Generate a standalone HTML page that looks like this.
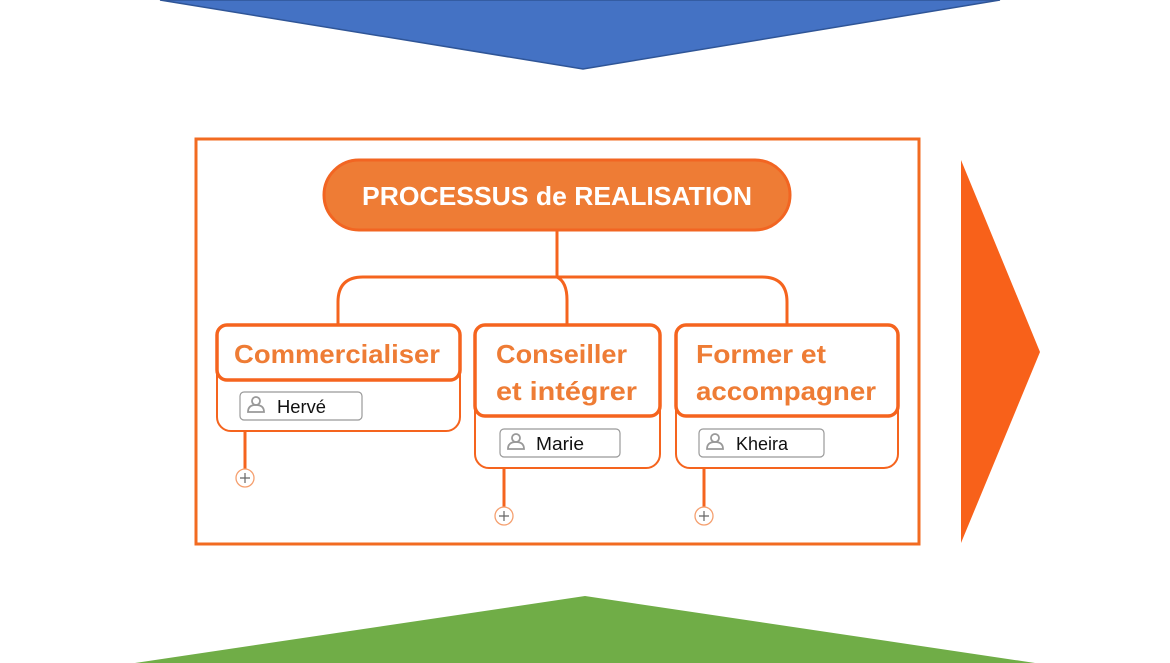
<!DOCTYPE html>
<html><head><meta charset="utf-8"><style>
html,body{margin:0;padding:0;background:#fff;width:1170px;height:663px;overflow:hidden}
text{font-family:"Liberation Sans","DejaVu Sans",sans-serif}
</style></head><body>
<svg width="1170" height="663" viewBox="0 0 1170 663" xmlns="http://www.w3.org/2000/svg">
<polygon points="160,0 1000,0 583,69" fill="#4472C4" stroke="#2F5597" stroke-width="1.5"/>
<polygon points="135,663 585,596 1035,663" fill="#70AD47"/>
<polygon points="961,160 1040,352 961,543" fill="#F8611A"/>
<rect x="196" y="139" width="723" height="405" fill="#fff" stroke="#F26B21" stroke-width="3"/>
<g fill="none" stroke="#F5641E" stroke-width="3">
<line x1="557" y1="230" x2="557" y2="277"/>
<path d="M338,325 V302 Q338,277 363,277 H762 Q787,277 787,302 V325"/>
<path d="M557,277 Q567,282 567,300 V325"/>
<line x1="245" y1="431" x2="245" y2="470"/>
<line x1="504" y1="468" x2="504" y2="508"/>
<line x1="704" y1="468" x2="704" y2="508"/>
</g>
<rect x="324" y="160" width="466" height="70" rx="35" fill="#EE7C35" stroke="#F26522" stroke-width="3"/>
<text x="362" y="205" fill="#fff" font-weight="bold" font-size="26" textLength="390" lengthAdjust="spacingAndGlyphs">PROCESSUS de REALISATION</text>
<g stroke="#F5641E" fill="#fff">
<rect x="217" y="325" width="243" height="106" rx="14" stroke-width="2"/>
<rect x="217" y="325" width="243" height="55" rx="10" stroke-width="3.5"/>
<rect x="475" y="325" width="185" height="143" rx="14" stroke-width="2"/>
<rect x="475" y="325" width="185" height="91" rx="10" stroke-width="3.5"/>
<rect x="676" y="325" width="222" height="143" rx="14" stroke-width="2"/>
<rect x="676" y="325" width="222" height="91" rx="10" stroke-width="3.5"/>
</g>
<g fill="#EE7C35" font-weight="bold" font-size="26" lengthAdjust="spacingAndGlyphs">
<text x="234" y="363" textLength="206" lengthAdjust="spacingAndGlyphs">Commercialiser</text>
<text x="496" y="363" textLength="131" lengthAdjust="spacingAndGlyphs">Conseiller</text>
<text x="496" y="400" textLength="141" lengthAdjust="spacingAndGlyphs">et intégrer</text>
<text x="696" y="363" textLength="130" lengthAdjust="spacingAndGlyphs">Former et</text>
<text x="696" y="400" textLength="180" lengthAdjust="spacingAndGlyphs">accompagner</text>
</g>
<g fill="#fff" stroke="#999" stroke-width="1.2">
<rect x="240" y="392" width="122" height="28" rx="4"/>
<rect x="500" y="429" width="120" height="28" rx="4"/>
<rect x="699" y="429" width="125" height="28" rx="4"/>
</g>
<g fill="none" stroke="#999" stroke-width="1.8">
<circle cx="256" cy="401" r="4"/><path d="M248,412 Q248,405 256,405 Q264,405 264,412 Z"/>
<circle cx="516" cy="438" r="4"/><path d="M508,449 Q508,442 516,442 Q524,442 524,449 Z"/>
<circle cx="715" cy="438" r="4"/><path d="M707,449 Q707,442 715,442 Q723,442 723,449 Z"/>
</g>
<g fill="#111" font-size="18">
<text x="277" y="413" textLength="49" lengthAdjust="spacingAndGlyphs">Hervé</text>
<text x="536" y="450" textLength="48" lengthAdjust="spacingAndGlyphs">Marie</text>
<text x="736" y="450" textLength="52" lengthAdjust="spacingAndGlyphs">Kheira</text>
</g>
<g fill="#fff" stroke="#F5A070" stroke-width="1.3">
<circle cx="245" cy="478" r="9"/><circle cx="504" cy="516" r="9"/><circle cx="704" cy="516" r="9"/>
</g>
<g stroke="#666" stroke-width="1.2">
<path d="M240,478 H250 M245,473 V483"/>
<path d="M499,516 H509 M504,511 V521"/>
<path d="M699,516 H709 M704,511 V521"/>
</g>
</svg>
</body></html>
